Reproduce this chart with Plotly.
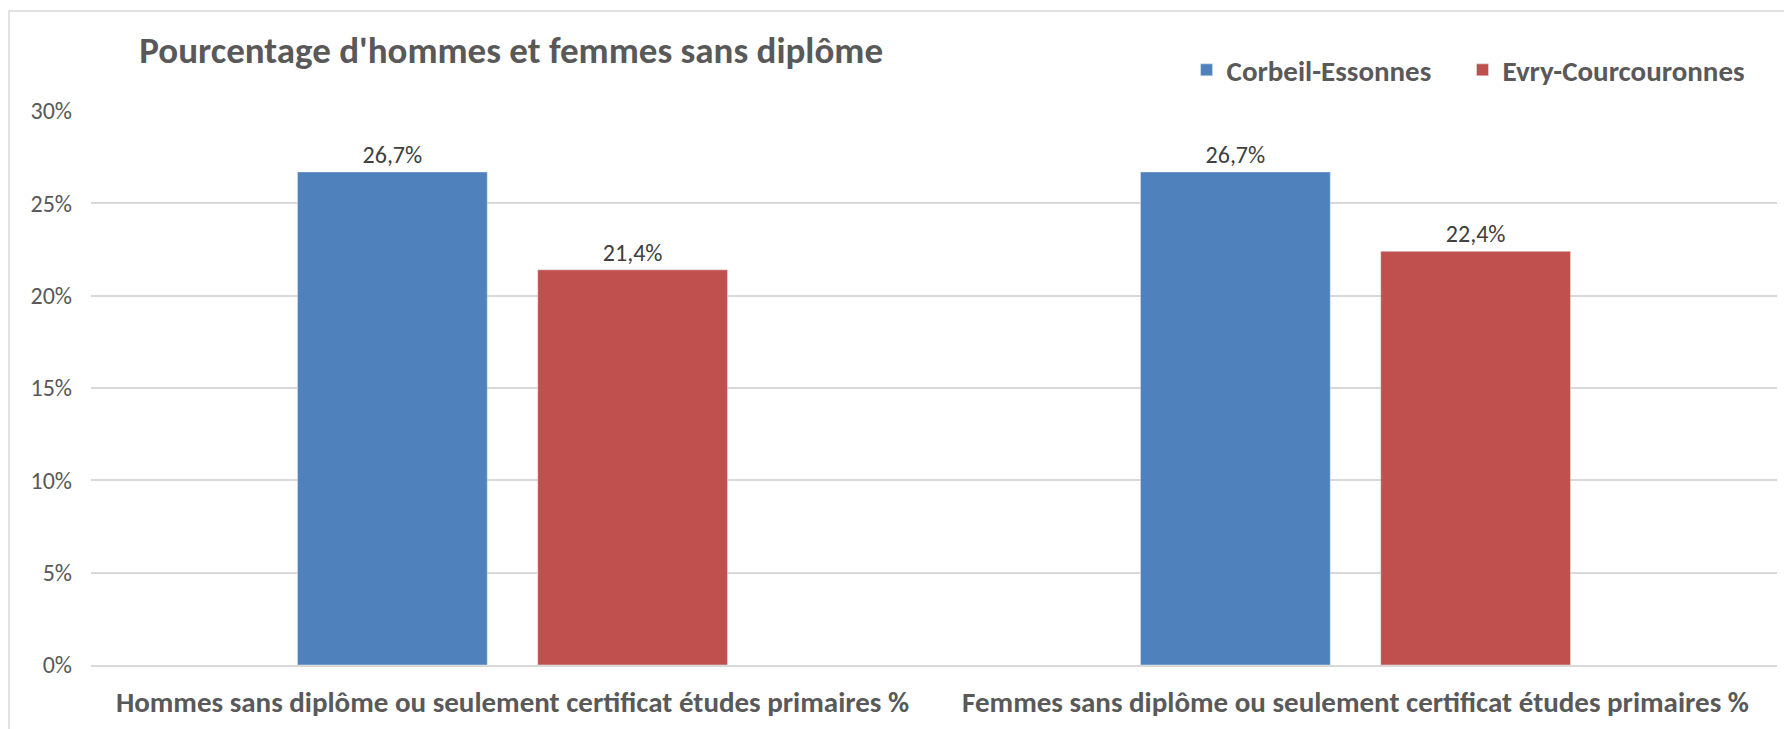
import plotly.graph_objects as go

categories = [
    "Hommes sans diplôme ou seulement certificat études primaires %",
    "Femmes sans diplôme ou seulement certificat études primaires %",
]
corbeil = [26.7, 26.7]
evry = [21.4, 22.4]
y_ticks = [0, 5, 10, 15, 20, 25, 30]

FONT = "Carlito, Lato, sans-serif"
GREY = "#595959"

fig = go.Figure()
# non-breaking spaces widen the gap between the two legend entries
for name, vals, color in [("Corbeil-Essonnes\u00a0\u00a0\u00a0\u00a0", corbeil, "#4F81BD"),
                          ("Evry-Courcouronnes", evry, "#C0504D")]:
    fig.add_trace(go.Bar(
        x=categories, y=vals, name=name,
        marker_color=color,
        texttemplate="%{y:.1f}%", textposition="outside",
        textfont=dict(size=24, color="#404040", family=FONT),
        cliponaxis=False,
    ))

# chart frame
fig.add_shape(type="rect", xref="paper", yref="paper",
              x0=-0.0486, x1=1.007, y0=-0.2, y1=1.1805,
              line=dict(color="#D9D9D9", width=1.5), layer="below")

# page body has an 8px margin, so the figure is 8px smaller
fig.update_layout(
    width=1784, height=721,
    margin=dict(l=83, r=15, t=103, b=64, autoexpand=False),
    paper_bgcolor="white", plot_bgcolor="white",
    separators=", ",
    font=dict(family=FONT, color=GREY),
    bargap=0.43, bargroupgap=0.21,
    showlegend=True,
    title=dict(
        text="Pourcentage d'hommes et femmes sans diplôme",
        font=dict(size=37, color=GREY, family=FONT, weight="bold"),
        xref="paper", x=0.0286, xanchor="left",
        yref="container", y=1 - 42 / 721, yanchor="middle",
    ),
    legend=dict(
        orientation="h", xref="paper", x=0.6498, xanchor="left",
        yref="paper", y=1.074, yanchor="middle",
        font=dict(size=29, color=GREY, family=FONT, weight="bold"),
        itemwidth=30, traceorder="normal",
    ),
    xaxis=dict(
        showline=True, linecolor="#D9D9D9", linewidth=1.5,
        tickfont=dict(size=29, color=GREY, family=FONT, weight="bold"),
        ticks="", ticklabelstandoff=10, automargin=False,
    ),
    yaxis=dict(
        range=[0, 30], tickvals=y_ticks,
        ticktext=[f"{v}%" for v in y_ticks],
        showgrid=True, gridcolor="#D9D9D9", gridwidth=1.5,
        zeroline=False, showline=False,
        tickfont=dict(size=24, color=GREY, family=FONT),
        ticklabelstandoff=18, automargin=False,
    ),
)

fig.write_html("out.html")
